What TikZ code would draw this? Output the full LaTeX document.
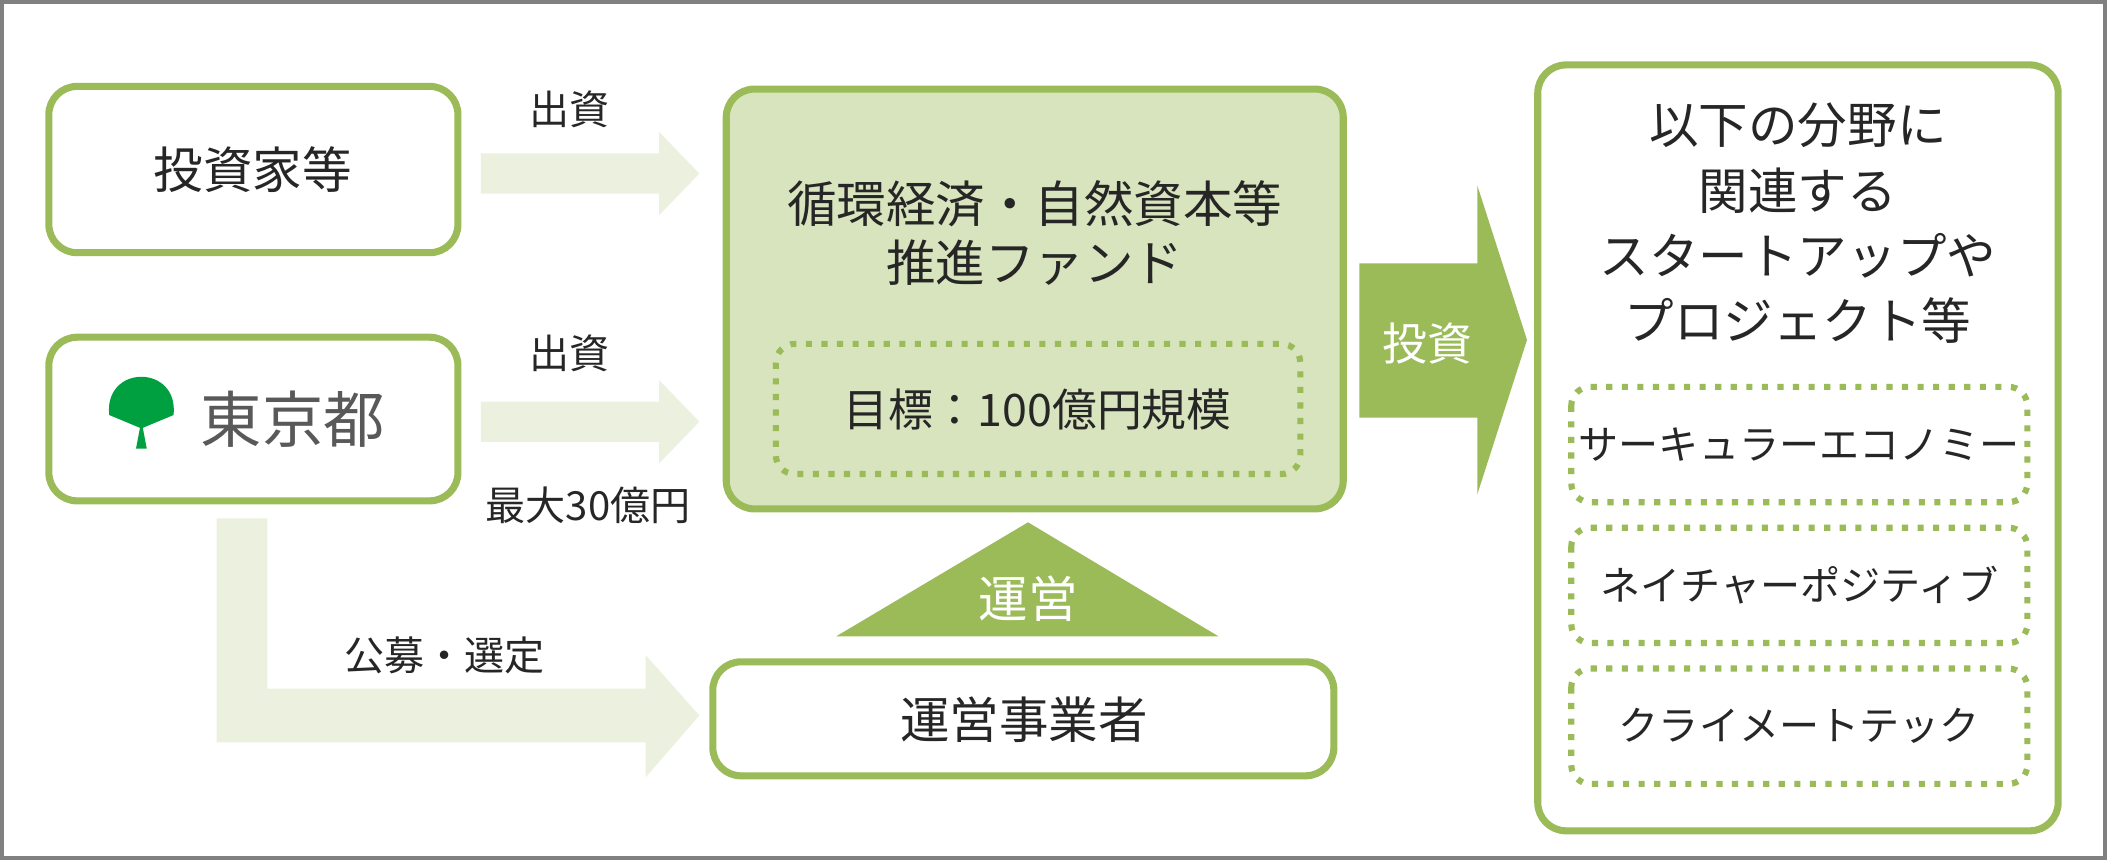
\documentclass[tikz,border=0pt]{standalone}
\usepackage{fontspec}
\setmainfont{Noto Sans CJK JP}
\definecolor{leaf}{HTML}{9BBB59}
\definecolor{pale}{HTML}{EBF1DE}
\definecolor{fundfill}{HTML}{D7E4BD}
\definecolor{tokyo}{HTML}{00A040}
\tikzset{
  roundbox/.style={draw=leaf, line width=1.5pt, rounded corners=6pt, fill=white},
  dotbox/.style={draw=leaf, line width=1.3pt, dotted, rounded corners=4pt},
  lbl/.style={font=\fontsize{10.5}{12.5}\selectfont, align=center, text=black!85},
  small/.style={font=\fontsize{8.5}{10}\selectfont, text=black!85},
}
\begin{document}
\begin{tikzpicture}[x=0.01cm, y=-0.01cm]
  \draw[gray, line width=0.8pt] (0,0) rectangle (1568,638);

  % left boxes
  \draw[roundbox] (35,63) rectangle (340,187);
  \node[lbl] (inv) at (187,125) {投資家等};
  \draw[roundbox] (35,250) rectangle (340,372);
  \node[lbl, text=black!65, font=\fontsize{13}{15}\selectfont] (tokyo) at (217,311) {東京都};
  \fill[tokyo] (104,318) -- (80,308) .. controls (76,270) and (132,270) .. (128,308) -- cycle;
  \fill[tokyo] (104,312) -- (100,333) -- (108,333) -- cycle;

  % light arrows
  \foreach \y/\name in {128/a, 313/b} {
    \fill[pale] (357,\y-15) -- (490,\y-15) -- (490,\y-31) -- (520,\y) -- (490,\y+31) -- (490,\y+15) -- (357,\y+15) -- cycle;
  }
  \node[small] (in1) at (423,80) {出資};
  \node[small] (in2) at (423,262) {出資};
  \node[small] (cap) at (437,375) {最大30億円};
  \fill[pale] (160,385) -- (198,385) -- (198,512) -- (480,512) -- (480,487) -- (520,532) -- (480,578) -- (480,552) -- (160,552) -- cycle;
  \node[small] (pick) at (330,487) {公募・選定};

  % fund
  \draw[roundbox, fill=fundfill] (540,65) rectangle (1000,378);
  \node[lbl] (fund) at (770,172) {循環経済・自然資本等\\推進ファンド};
  \draw[dotbox] (577,255) rectangle (968,352);
  \node[lbl, font=\fontsize{9.5}{11}\selectfont] (goal) at (772,304) {目標：100億円規模};

  % invest arrow
  \fill[leaf] (1012,195) -- (1100,195) -- (1100,137) -- (1137,252) -- (1100,367) -- (1100,310) -- (1012,310) -- cycle;
  \node[small, text=white, font=\fontsize{9.5}{11}\selectfont] (invest) at (1063,255) {投資};

  % operator
  \fill[leaf] (622,473) -- (765,388) -- (907,473) -- cycle;
  \node[lbl, text=white] (op) at (765,445) {運営};
  \draw[roundbox] (530,492) rectangle (993,577);
  \node[lbl] (opr) at (762,535) {運営事業者};

  % targets
  \draw[roundbox] (1145,47) rectangle (1533,618);
  \node[lbl, font=\fontsize{10.5}{13.8}\selectfont] (areas) at (1339,165) {以下の分野に\\関連する\\スタートアップや\\プロジェクト等};
  \foreach \y/\t/\name in {287/サーキュラーエコノミー/ce, 392/ネイチャーポジティブ/np, 497/クライメートテック/ct} {
    \draw[dotbox] (1170,\y) rectangle (1510,\y+86);
    \node[small] (\name) at (1340,\y+43) {\t};
  }
\end{tikzpicture}
\end{document}
